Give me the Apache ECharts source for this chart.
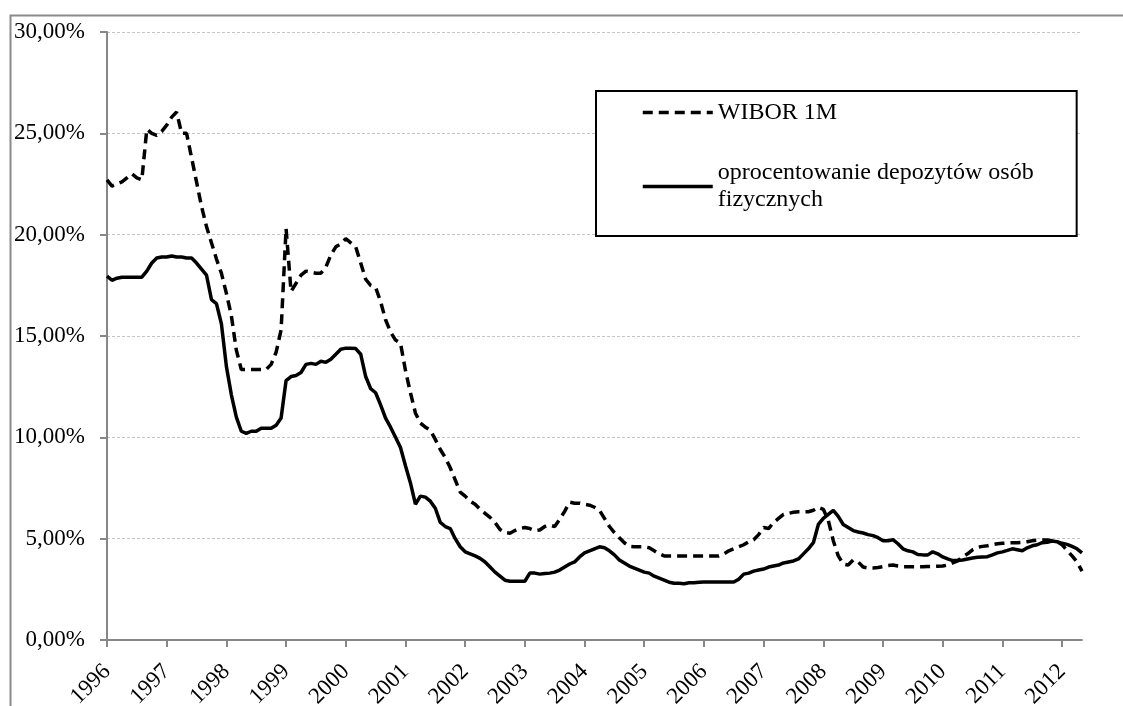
<!DOCTYPE html>
<html>
<head>
<meta charset="utf-8">
<script src="https://cdn.jsdelivr.net/npm/echarts@6/dist/echarts.min.js"></script>
<style>
  html, body { margin: 0; padding: 0; background: #fff; }
  #chart { width: 1123px; height: 706px; }
</style>
</head>
<body>
<div id="chart"></div>
<script>
// Year labels on the horizontal axis (monthly data, Jan 1996 – May 2012)
const years = [1996, 1997, 1998, 1999, 2000, 2001, 2002, 2003, 2004, 2005, 2006, 2007, 2008, 2009, 2010, 2011, 2012];
const lastYearMonths = 5;

// WIBOR 1M, % (monthly)
const wibor = [
  22.7, 22.4, 22.5, 22.6, 22.8, 23.0, 22.8, 22.7, 25.2, 25.0, 24.9, 25.1,
  25.4, 25.8, 26.05, 25.0, 25.0, 23.8, 22.6, 21.4, 20.4, 19.6, 18.8, 18.1,
  17.1, 16.0, 14.3, 13.35, 13.35, 13.35, 13.35, 13.35, 13.35, 13.6, 14.2, 15.3,
  20.3, 17.2, 17.6, 18.0, 18.2, 18.15, 18.1, 18.1, 18.4, 19.0, 19.4, 19.55,
  19.8, 19.6, 19.4, 18.6, 17.8, 17.5, 17.4, 16.7, 15.8, 15.2, 14.8, 14.65,
  13.3, 12.2, 11.2, 10.7, 10.5, 10.35, 9.9, 9.4, 9.0, 8.5, 7.9, 7.3,
  7.1, 6.85, 6.7, 6.45, 6.25, 6.05, 5.8, 5.45, 5.3, 5.27, 5.4, 5.5,
  5.55, 5.5, 5.4, 5.43, 5.6, 5.67, 5.6, 5.95, 6.35, 6.8, 6.75, 6.75,
  6.7, 6.65, 6.55, 6.4, 6.0, 5.6, 5.3, 5.05, 4.8, 4.62, 4.6, 4.6,
  4.6, 4.55, 4.4, 4.25, 4.15, 4.15, 4.15, 4.15, 4.15, 4.15, 4.15, 4.15,
  4.15, 4.15, 4.15, 4.15, 4.25, 4.4, 4.5, 4.6, 4.7, 4.85, 4.95, 5.2,
  5.55, 5.5, 5.8, 6.0, 6.2, 6.25, 6.3, 6.33, 6.33, 6.33, 6.4, 6.55,
  6.45, 5.9, 4.9, 4.15, 3.75, 3.7, 3.95, 3.85, 3.6, 3.55, 3.55, 3.58,
  3.62, 3.68, 3.7, 3.65, 3.62, 3.62, 3.62, 3.62, 3.62, 3.63, 3.63, 3.64,
  3.65, 3.7, 3.8, 3.9, 4.1, 4.25, 4.45, 4.58, 4.62, 4.65, 4.7, 4.75,
  4.77, 4.78, 4.8, 4.8, 4.82, 4.85, 4.9, 4.92, 4.93, 4.93, 4.9, 4.85,
  4.7, 4.42, 4.15, 3.85, 3.4
];

// Interest rate on household deposits, % (monthly)
const deposits = [
  17.95, 17.75, 17.85, 17.9, 17.9, 17.9, 17.9, 17.9, 18.2, 18.6, 18.85, 18.9,
  18.9, 18.95, 18.9, 18.9, 18.85, 18.85, 18.6, 18.3, 18.0, 16.8, 16.6, 15.6,
  13.5, 12.1, 11.0, 10.3, 10.2, 10.3, 10.3, 10.45, 10.45, 10.45, 10.6, 10.95,
  12.8, 13.0, 13.05, 13.2, 13.6, 13.65, 13.6, 13.75, 13.7, 13.85, 14.1, 14.35,
  14.4, 14.4, 14.38, 14.1, 13.0, 12.4, 12.2, 11.6, 10.95, 10.5, 10.0, 9.5,
  8.6, 7.75, 6.7, 7.1, 7.05, 6.85, 6.5, 5.8, 5.6, 5.5, 5.0, 4.6,
  4.35, 4.25, 4.15, 4.03, 3.85, 3.6, 3.35, 3.15, 2.95, 2.9, 2.9, 2.9,
  2.9, 3.3, 3.3, 3.25, 3.28, 3.3, 3.35, 3.45, 3.6, 3.75, 3.85, 4.1,
  4.3, 4.4, 4.5, 4.6, 4.55, 4.4, 4.2, 3.95, 3.8, 3.65, 3.55, 3.45,
  3.35, 3.3, 3.15, 3.05, 2.95, 2.85, 2.8, 2.8, 2.78, 2.82, 2.82, 2.85,
  2.86, 2.86, 2.86, 2.86, 2.86, 2.86, 2.86, 3.0, 3.25, 3.3, 3.4, 3.45,
  3.5, 3.6, 3.65, 3.7, 3.8, 3.85, 3.9, 4.0, 4.25, 4.5, 4.8, 5.7,
  6.0, 6.2, 6.4, 6.1, 5.7, 5.55, 5.4, 5.33, 5.28, 5.2, 5.15, 5.05,
  4.9, 4.9, 4.95, 4.75, 4.5, 4.4, 4.35, 4.22, 4.2, 4.2, 4.35, 4.25,
  4.1, 4.0, 3.92, 3.92, 3.95, 4.0, 4.05, 4.08, 4.1, 4.11, 4.2, 4.3,
  4.35, 4.42, 4.5, 4.45, 4.4, 4.55, 4.65, 4.7, 4.8, 4.82, 4.88, 4.85,
  4.77, 4.72, 4.62, 4.5, 4.3
];

const seriesNames = ['WIBOR 1M', 'oprocentowanie depozytów osób fizycznych'];

// Month categories: "YYYY-MM"
const months = [];
years.forEach((y, k) => {
  const n = k === years.length - 1 ? lastYearMonths : 12;
  for (let m = 1; m <= n; m++) months.push(y + '-' + (m < 10 ? '0' + m : m));
});

const serif = '"Liberation Serif", "Times New Roman", serif';
const axisGray = '#878787';
const isJanuary = (idx) => idx % 12 === 0;

const chart = echarts.init(document.getElementById('chart'), null, { renderer: 'canvas' });

chart.setOption({
  animation: false,
  backgroundColor: '#ffffff',
  graphic: [{
    type: 'rect',
    left: 8, top: 13,
    shape: { width: 1200, height: 800 },
    style: { fill: 'none', stroke: '#8a8a8a', lineWidth: 2 },
    silent: true,
    z: -1
  }],
  grid: { left: 107, right: 41, top: 32, bottom: 66, containLabel: false, outerBoundsMode: 'none' },
  legend: {
    orient: 'vertical',
    left: 596,
    top: 91,
    padding: [8, 43, 9, 45],
    itemGap: 20,
    itemWidth: 70,
    itemHeight: 14,
    borderColor: '#000',
    borderWidth: 2,
    backgroundColor: '#fff',
    itemStyle: { opacity: 0 },
    lineStyle: { width: 3.5 },
    textStyle: { fontFamily: serif, fontSize: 24, lineHeight: 27, color: '#000' },
    formatter: (name) => name.replace(' fizycznych', '\nfizycznych'),
    data: [
      { name: seriesNames[0] },
      { name: seriesNames[1], textStyle: { padding: [27, 0, 0, 0] } }
    ]
  },
  xAxis: {
    type: 'category',
    data: months,
    boundaryGap: false,
    axisLine: { lineStyle: { color: axisGray, width: 2 } },
    axisTick: { show: true, interval: isJanuary, length: 7, lineStyle: { color: axisGray, width: 2 } },
    axisLabel: {
      interval: isJanuary,
      rotate: 45,
      margin: 28,
      fontFamily: serif,
      fontSize: 23,
      color: '#000',
      formatter: (v) => v.slice(0, 4)
    },
    splitLine: { show: false }
  },
  yAxis: {
    type: 'value',
    min: 0,
    max: 30,
    interval: 5,
    axisLine: { show: true, lineStyle: { color: axisGray, width: 2 } },
    axisTick: { show: true, length: 7, lineStyle: { color: axisGray, width: 2 } },
    axisLabel: {
      margin: 22,
      fontFamily: serif,
      fontSize: 23,
      color: '#000',
      formatter: (v) => v.toFixed(2).replace('.', ',') + '%'
    },
    splitLine: { show: true, lineStyle: { color: '#c4c4c4', width: 1, type: [3, 2] } }
  },
  series: [
    {
      name: seriesNames[0],
      type: 'line',
      data: wibor,
      showSymbol: false,
      symbol: 'none',
      color: '#000',
      lineStyle: { color: '#000', width: 3.5, type: [10, 6] },
      z: 3
    },
    {
      name: seriesNames[1],
      type: 'line',
      data: deposits,
      showSymbol: false,
      symbol: 'none',
      color: '#000',
      lineStyle: { color: '#000', width: 3.5, type: 'solid' },
      z: 2
    }
  ]
});
</script>
</body>
</html>
